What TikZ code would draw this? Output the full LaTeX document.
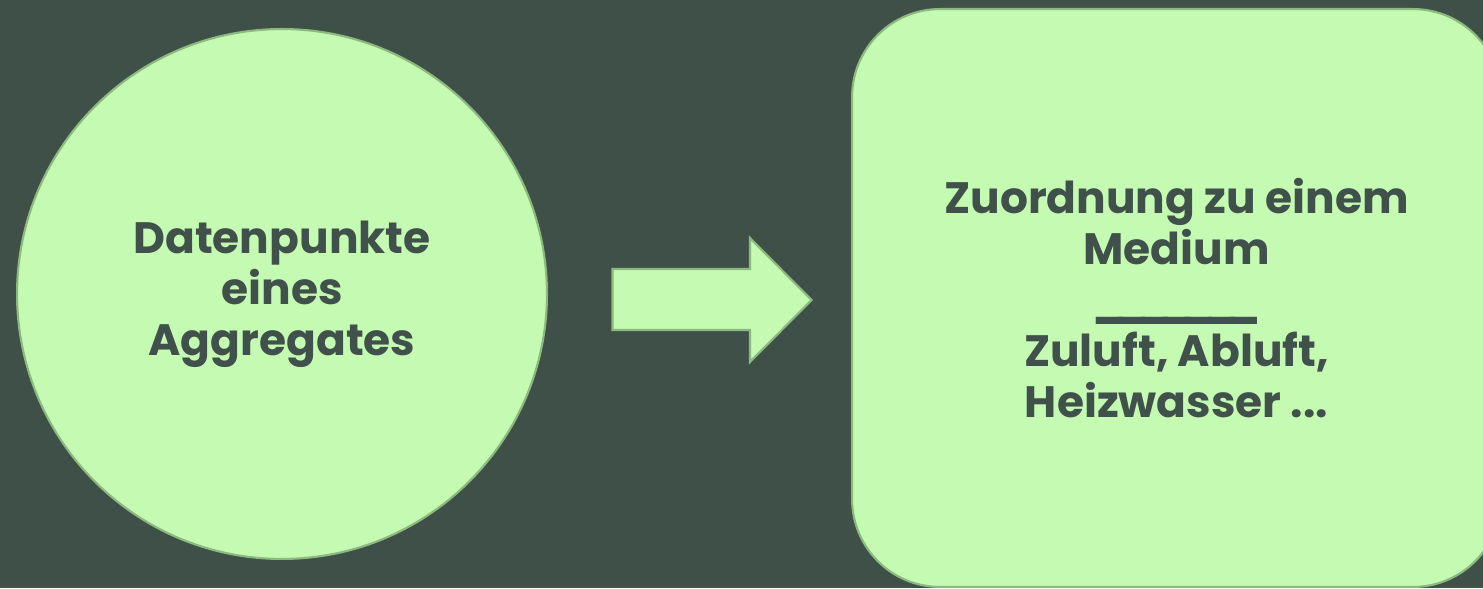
\documentclass[tikz,border=0pt]{standalone}
\usepackage{fontspec}
\setmainfont{Poppins}
\usepackage{tikz}
\usetikzlibrary{calc}
\usetikzlibrary{positioning}
\definecolor{darkbg}{HTML}{3F5049}
\definecolor{lightgreen}{HTML}{C4FAB1}
\definecolor{greenline}{HTML}{8CB97E}
\definecolor{textgray}{HTML}{40504A}
% underscores set close together, so that they make one line
\newcommand{\us}{\_\kern-6.8pt}

\begin{document}
\begin{tikzpicture}[x=0.02cm, y=0.02cm,
  blocktext/.style={text=textgray, align=center, font=\fontsize{25}{29}\selectfont\bfseries},
  greenblock/.style={draw=greenline, line width=1.2pt, fill=lightgreen}]

%%%%%%%%%%%%%%%%%%%%%%%%%%%%%%%%%%%%%%%%%%%%%%%%%%%%%%%%%%%%%% Setup
\coordinate (C) at (0, 0);
% background and fixed boundaries of the picture
\fill[darkbg] ($(C)+(0, 0)$) rectangle ($(C)+(1483, 588)$);
\useasboundingbox ($(C)+(0, 0)$) rectangle ($(C)+(1483, 588)$);

%%%%%%%%%%%%%%%%%%%%%%%%%%%%%%%%%%%%%%%%%%%%%%%%%%%%%%%%%%%%%% Blocks
\node[greenblock, blocktext, circle, minimum size=10.6cm] (punkte)
  at ($(C)+(282, 294)$) {Datenpunkte\\eines\\Aggregates};

\node[greenblock, blocktext, rounded corners=1.76cm,
  minimum width=12.98cm, minimum height=11.56cm] (medium)
  at ($(C)+(1176.5, 290)$)
  {Zuordnung zu einem\\Medium\\\us\us\us\us\us\us\_\\Zuluft, Abluft,\\Heizwasser ...};

%%%%%%%%%%%%%%%%%%%%%%%%%%%%%%%%%%%%%%%%%%%%%%%%%%%%%%%%%%%%%% Arrow
\coordinate (pfeil) at ($(C)+(612.5, 288)$);
\draw[greenblock] ($(pfeil)+(0, 31)$) -- ($(pfeil)+(137.5, 31)$)
  -- ($(pfeil)+(137.5, 62)$) -- ($(pfeil)+(199, 0)$)
  -- ($(pfeil)+(137.5, -62)$) -- ($(pfeil)+(137.5, -30)$)
  -- ($(pfeil)+(0, -30)$) -- cycle;

\end{tikzpicture}
\end{document}
